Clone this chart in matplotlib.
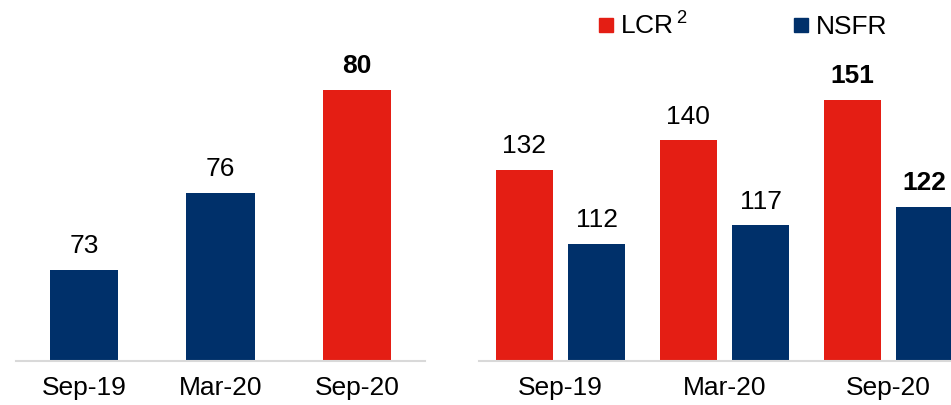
import matplotlib

matplotlib.use('Agg')
import matplotlib.pyplot as plt
from matplotlib.lines import Line2D
import numpy as np

# data
periods = ['Sep-19', 'Mar-20', 'Sep-20']
left_values = [73, 76, 80]
lcr_values = [132, 140, 151]
nsfr_values = [112, 117, 122]

RED = '#E41E14'
NAVY = '#00306A'
AXIS_GRAY = '#D9D9D9'

plt.rcParams['font.family'] = ['Liberation Sans', 'DejaVu Sans']
plt.rcParams['mathtext.fontset'] = 'custom'
plt.rcParams['mathtext.rm'] = 'Liberation Sans'
plt.rcParams['mathtext.default'] = 'regular'

FS = 19
W, H = 951, 405
fig = plt.figure(figsize=(W / 100, H / 100), dpi=100)


def style_axis(ax):
    for s in ['top', 'right', 'left']:
        ax.spines[s].set_visible(False)
    ax.spines['bottom'].set_color(AXIS_GRAY)
    ax.spines['bottom'].set_linewidth(1.5)
    ax.set_yticks([])
    ax.tick_params(axis='x', length=0, pad=11, labelsize=FS)
    ax.set_xticks(range(len(periods)))
    ax.set_xticklabels(periods)
    ax.set_xlim(-0.5, 2.5)


def label(ax, x, v, bold=False):
    ax.annotate(str(v), (x, v), xytext=(0, 12), textcoords='offset points',
                ha='center', va='baseline', fontsize=FS,
                fontweight='bold' if bold else 'normal')


# left panel
axl = fig.add_axes([16 / W, (H - 361) / H, 409 / W, 361 / H])
style_axis(axl)
x = np.arange(len(periods))
colors_l = [NAVY, NAVY, RED]
axl.bar(x, left_values, width=0.5, color=colors_l)
axl.set_ylim(69.46, 83.5)
for i, v in enumerate(left_values):
    label(axl, i, v, bold=(i == len(left_values) - 1))

# right panel (runs off the right edge)
axr = fig.add_axes([478.5 / W, (H - 361) / H, 492 / W, 361 / H])
style_axis(axr)
bw = 0.348
off = 0.22
axr.bar(x - off, lcr_values, width=bw, color=RED)
axr.bar(x + off, nsfr_values, width=bw, color=NAVY)
axr.set_ylim(80.15, 178.1)
last = len(periods) - 1
for i in range(len(periods)):
    label(axr, i - off, lcr_values[i], bold=(i == last))
    label(axr, i + off, nsfr_values[i], bold=(i == last))

handles = [Line2D([], [], marker='s', color=RED, linestyle='none', markersize=10),
           Line2D([], [], marker='s', color=NAVY, linestyle='none', markersize=10)]
fig.legend(handles, ['LCR$^{\\,\\mathbf{}2}$', 'NSFR'], loc='upper left',
           bbox_to_anchor=(598 / W, 1 - 12 / H), ncol=2, frameon=False,
           fontsize=FS, handlelength=0.6, handletextpad=0.25,
           columnspacing=4.0, borderpad=0, borderaxespad=0)

fig.savefig('out.png', dpi=100)
